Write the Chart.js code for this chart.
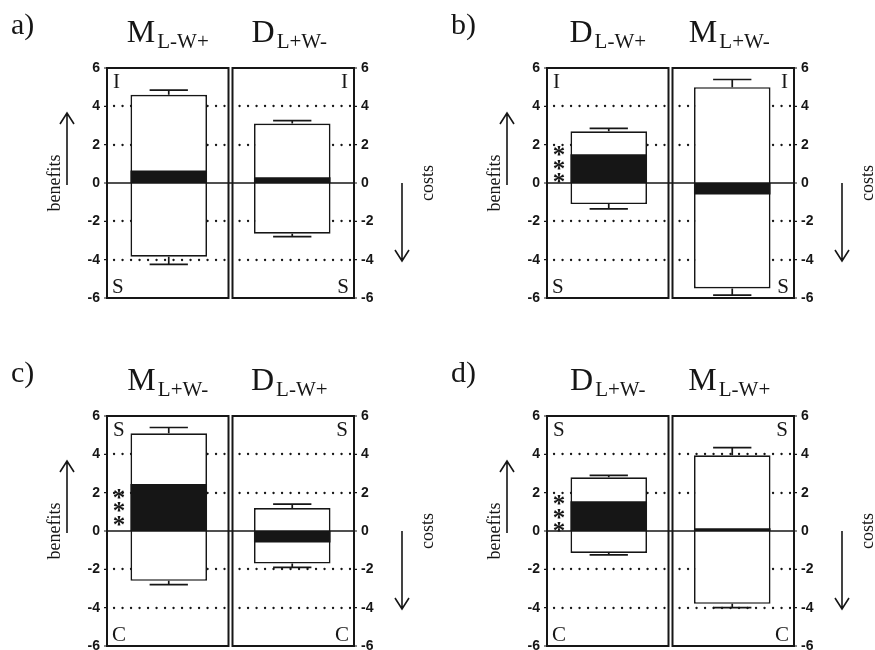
<!DOCTYPE html>
<html>
<head>
<meta charset="utf-8">
<script src="https://cdn.jsdelivr.net/npm/chart.js@4.4.0/dist/chart.umd.min.js"></script>
<style>
  body { margin: 0; background: #fff; }
  #wrap { position: relative; width: 875px; height: 650px; overflow: hidden; background: #fff; }
  canvas { position: absolute; }
</style>
</head>
<body>
<div id="wrap">
  <canvas id="pa" width="440" height="320" style="left:0;top:0"></canvas>
  <canvas id="pb" width="440" height="320" style="left:440px;top:0"></canvas>
  <canvas id="pc" width="440" height="320" style="left:0;top:348px"></canvas>
  <canvas id="pd" width="440" height="320" style="left:440px;top:348px"></canvas>
</div>
<script>
// panel data, one entry per panel a) .. d), inner pairs = [left group, right group]
const panelLetters = ['a)', 'b)', 'c)', 'd)'];
const leftNames = ['M', 'D', 'M', 'D'];
const leftSubs = ['L-W+', 'L-W+', 'L+W-', 'L+W-'];
const rightNames = ['D', 'M', 'D', 'M'];
const rightSubs = ['L+W-', 'L+W-', 'L-W+', 'L-W+'];
const topCorner = ['I', 'I', 'S', 'S'];
const bottomCorner = ['S', 'S', 'C', 'C'];

const means   = [[0.65, 0.3], [1.5, -0.6], [2.45, -0.6], [1.55, 0.15]];
const boxLow  = [[-3.85, -2.65], [-1.1, -5.5], [-2.6, -1.7], [-1.15, -3.8]];
const boxHigh = [[4.6, 3.1], [2.7, 5.0], [5.1, 1.2], [2.8, 3.95]];
const errLow  = [[-4.25, -2.8], [-1.35, -5.85], [-2.8, -1.9], [-1.25, -4.0]];
const errHigh = [[4.85, 3.25], [2.85, 5.4], [5.4, 1.4], [2.9, 4.35]];

const stars = ['', '***', '***', '***'];
const starLevel = [0, 0.95, 1.25, 0.9];

const yTicks = [-6, -4, -2, 0, 2, 4, 6];
const dotLevels = [-4, -2, 2, 4];

const SERIF = '"Liberation Serif", "DejaVu Serif", serif';
const SANS = '"Liberation Sans", Arial, sans-serif';
const INK = '#161616';

function frames(chart) {
  const a = chart.chartArea;
  const mid = (a.left + a.right) / 2;
  return [{ l: a.left, r: mid - 2 }, { l: mid + 2, r: a.right }];
}

function titleText(ctx, cx, base, name, sub) {
  ctx.font = '32px ' + SERIF;
  const w1 = ctx.measureText(name).width;
  ctx.font = '21px ' + SERIF;
  const w2 = ctx.measureText(sub).width;
  const x0 = cx - (w1 + w2 + 2) / 2;
  ctx.textAlign = 'left';
  ctx.textBaseline = 'alphabetic';
  ctx.font = '32px ' + SERIF;
  ctx.fillText(name, x0, base);
  ctx.font = '21px ' + SERIF;
  ctx.fillText(sub, x0 + w1 + 2, base + 6);
}

function arrow(ctx, x, y1, y2) {
  // line from y1 to y2, head at y2
  const d = y2 > y1 ? 1 : -1;
  ctx.beginPath();
  ctx.moveTo(x, y1); ctx.lineTo(x, y2);
  ctx.moveTo(x - 7, y2 - d * 11); ctx.lineTo(x, y2); ctx.lineTo(x + 7, y2 - d * 11);
  ctx.stroke();
}

function deco(p) {
  return {
    id: 'deco' + p,
    beforeDatasetsDraw(chart) {
      const ctx = chart.ctx, y = chart.scales.y;
      ctx.save();
      ctx.strokeStyle = INK;
      ctx.lineWidth = 2.3;
      ctx.lineCap = 'round';
      ctx.setLineDash([0.1, 8.4]);
      frames(chart).forEach(f => {
        dotLevels.forEach(v => {
          const py = Math.round(y.getPixelForValue(v));
          ctx.beginPath();
          ctx.moveTo(f.l + 7, py);
          ctx.lineTo(f.r - 4, py);
          ctx.stroke();
        });
      });
      ctx.restore();
    },
    afterDatasetsDraw(chart) {
      const ctx = chart.ctx, y = chart.scales.y, x = chart.scales.x, a = chart.chartArea;
      const meta = chart.getDatasetMeta(1);
      ctx.save();
      ctx.strokeStyle = INK;
      ctx.fillStyle = INK;
      // error whiskers
      ctx.lineWidth = 1.7;
      [0, 1].forEach(g => {
        const cx = x.getPixelForValue(g);
        const half = meta.data[g].width * 0.25;
        [[boxHigh[p][g], errHigh[p][g]], [boxLow[p][g], errLow[p][g]]].forEach(([b, e]) => {
          const pb = y.getPixelForValue(b), pe = y.getPixelForValue(e);
          ctx.beginPath();
          ctx.moveTo(cx, pb); ctx.lineTo(cx, pe);
          ctx.moveTo(cx - half, pe); ctx.lineTo(cx + half, pe);
          ctx.stroke();
        });
      });
      // zero line
      const z = y.getPixelForValue(0);
      ctx.lineWidth = 1.5;
      ctx.beginPath(); ctx.moveTo(a.left, z); ctx.lineTo(a.right, z); ctx.stroke();
      // frames
      ctx.lineWidth = 2;
      frames(chart).forEach(f => ctx.strokeRect(f.l, a.top, f.r - f.l, a.bottom - a.top));
      // tick marks
      ctx.lineWidth = 1.2;
      yTicks.forEach(v => {
        const py = y.getPixelForValue(v);
        ctx.beginPath();
        ctx.moveTo(a.left - 3, py); ctx.lineTo(a.left, py);
        ctx.moveTo(a.right, py); ctx.lineTo(a.right + 3, py);
        ctx.stroke();
      });
      // corner letters
      const fr = frames(chart);
      ctx.font = '21px ' + SERIF;
      ctx.textBaseline = 'alphabetic';
      ctx.textAlign = 'left';
      ctx.fillText(topCorner[p], fr[0].l + 6, a.top + 20);
      ctx.fillText(bottomCorner[p], fr[0].l + 5, a.bottom - 5);
      ctx.textAlign = 'right';
      ctx.fillText(topCorner[p], fr[1].r - 6, a.top + 20);
      ctx.fillText(bottomCorner[p], fr[1].r - 5, a.bottom - 5);
      // significance stars
      if (stars[p]) {
        ctx.font = 'bold 25px ' + SERIF;
        ctx.textAlign = 'center';
        const m = ctx.measureText('*');
        const off = (m.actualBoundingBoxAscent - m.actualBoundingBoxDescent) / 2;
        const yc = y.getPixelForValue(starLevel[p]);
        for (let k = 0; k < stars[p].length; k++) {
          ctx.fillText('*', fr[0].l + 12, yc + (k - 1) * 13.5 + off);
        }
      }
      ctx.restore();
    },
    afterDraw(chart) {
      const ctx = chart.ctx, a = chart.chartArea, y = chart.scales.y;
      const fr = frames(chart);
      const z = y.getPixelForValue(0);
      ctx.save();
      ctx.fillStyle = INK;
      ctx.strokeStyle = INK;
      // panel letter
      ctx.font = '30px ' + SERIF;
      ctx.textAlign = 'left';
      ctx.textBaseline = 'alphabetic';
      ctx.fillText(panelLetters[p], 11, a.top - 34);
      // group titles
      titleText(ctx, (fr[0].l + fr[0].r) / 2, a.top - 26, leftNames[p], leftSubs[p]);
      titleText(ctx, (fr[1].l + fr[1].r) / 2 - 4, a.top - 26, rightNames[p], rightSubs[p]);
      // benefits / costs
      ctx.font = '18px ' + SERIF;
      ctx.textAlign = 'center';
      ctx.textBaseline = 'middle';
      ctx.save();
      ctx.translate(a.left - 52, z);
      ctx.rotate(-Math.PI / 2);
      ctx.fillText('benefits', 0, 0);
      ctx.restore();
      ctx.save();
      ctx.translate(a.right + 74, z);
      ctx.rotate(-Math.PI / 2);
      ctx.fillText('costs', 0, 0);
      ctx.restore();
      ctx.lineWidth = 1.6;
      arrow(ctx, a.left - 40, z + 2, z - 70);
      arrow(ctx, a.right + 48, z, z + 78);
      ctx.restore();
    }
  };
}

function axis(pos) {
  return {
    position: pos,
    min: -6,
    max: 6,
    afterFit: s => { s.width = 40; },
    afterBuildTicks: s => { s.ticks = yTicks.map(v => ({ value: v })); },
    grid: { display: false, drawTicks: false },
    border: { display: false },
    ticks: { padding: 7, color: INK, font: { family: SANS, size: 14, weight: 'bold' } }
  };
}

function makeChart(p, id) {
  new Chart(document.getElementById(id), {
    type: 'bar',
    data: {
      labels: [leftNames[p] + leftSubs[p], rightNames[p] + rightSubs[p]],
      datasets: [
        {
          label: 'mean',
          data: means[p].map(m => [0, m]),
          backgroundColor: INK,
          borderWidth: 0,
          grouped: false,
          barPercentage: 0.62,
          categoryPercentage: 1
        },
        {
          label: 'range',
          data: boxLow[p].map((lo, g) => [lo, boxHigh[p][g]]),
          backgroundColor: '#ffffff',
          borderColor: INK,
          borderWidth: 1.7,
          borderSkipped: false,
          grouped: false,
          barPercentage: 0.62,
          categoryPercentage: 1
        }
      ]
    },
    options: {
      responsive: false,
      animation: false,
      layout: { padding: { left: 67, right: 46, top: 68, bottom: 22 } },
      plugins: { legend: { display: false }, tooltip: { enabled: false } },
      scales: {
        x: { display: false },
        y: axis('left'),
        y2: axis('right')
      }
    },
    plugins: [deco(p)]
  });
}

makeChart(0, 'pa');
makeChart(1, 'pb');
makeChart(2, 'pc');
makeChart(3, 'pd');
</script>
</body>
</html>
